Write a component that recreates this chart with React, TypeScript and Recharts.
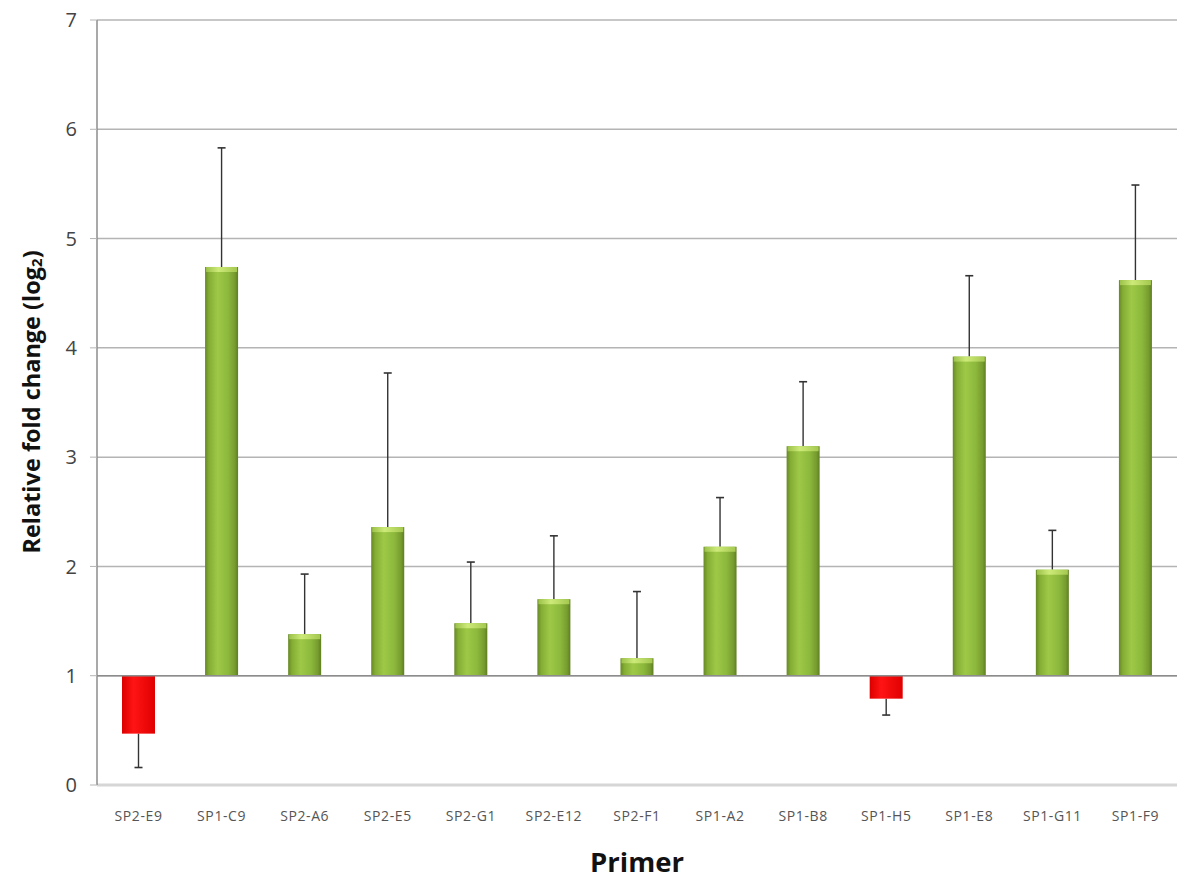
import React from 'react';
import { BarChart, Bar, XAxis, YAxis, CartesianGrid, ReferenceLine } from 'recharts';

const primers = ['SP2-E9', 'SP1-C9', 'SP2-A6', 'SP2-E5', 'SP2-G1', 'SP2-E12', 'SP2-F1', 'SP1-A2', 'SP1-B8', 'SP1-H5', 'SP1-E8', 'SP1-G11', 'SP1-F9'];
const foldChange = [0.47, 4.74, 1.38, 2.36, 1.48, 1.7, 1.16, 2.18, 3.1, 0.79, 3.92, 1.97, 4.62];
const errorEnd = [0.16, 5.83, 1.93, 3.77, 2.04, 2.28, 1.77, 2.63, 3.69, 0.64, 4.66, 2.33, 5.49];
const yTicks = [0, 1, 2, 3, 4, 5, 6, 7];
const BASELINE = 1;

// each mark spans baseline -> error end; the bar itself stops at the value
const data = primers.map((name, i) => ({
  name,
  value: foldChange[i],
  err: errorEnd[i],
  span: [BASELINE, errorEnd[i]],
}));

const FONT = "'Open Sans', 'Liberation Sans', sans-serif";

const FoldBar = (props: any) => {
  const { x, y, width, height, payload, index } = props;
  if (x == null || y == null || !payload) return null;
  // y is the pixel of the error end, y + height the pixel of the baseline (linear scale)
  const yBase = y + height;
  const yErr = y;
  const t = (payload.value - BASELINE) / (payload.err - BASELINE);
  const yVal = yBase + t * (yErr - yBase);
  const top = Math.min(yBase, yVal);
  const h = Math.abs(yVal - yBase);
  const down = payload.value < BASELINE;
  const cx = x + width / 2;
  const g = `fold-g-${index}`;
  const c = `fold-c-${index}`;
  return (
    <g>
      <defs>
        <linearGradient id={g} x1="0" y1="0" x2="1" y2="0">
          {down ? (
            <>
              <stop offset="0%" stopColor="#dc0000" />
              <stop offset="35%" stopColor="#ff1414" />
              <stop offset="100%" stopColor="#e00000" />
            </>
          ) : (
            <>
              <stop offset="0%" stopColor="#678826" />
              <stop offset="12%" stopColor="#84ad34" />
              <stop offset="38%" stopColor="#9ec947" />
              <stop offset="70%" stopColor="#8cb83c" />
              <stop offset="90%" stopColor="#779c2f" />
              <stop offset="100%" stopColor="#5f7e22" />
            </>
          )}
        </linearGradient>
        <linearGradient id={c} x1="0" y1="0" x2="1" y2="0">
          <stop offset="0%" stopColor="#9cc24a" />
          <stop offset="40%" stopColor="#cdea78" />
          <stop offset="100%" stopColor="#a4c850" />
        </linearGradient>
      </defs>
      <line x1={cx} x2={cx} y1={yVal} y2={yErr} stroke="#333" strokeWidth={1.4} />
      <line x1={cx - 4} x2={cx + 4} y1={yErr} y2={yErr} stroke="#333" strokeWidth={1.6} />
      <rect x={x} y={top} width={width} height={h} fill={`url(#${g})`} />
      {!down && <rect x={x + 1} y={top} width={width - 2} height={Math.min(5, h)} fill={`url(#${c})`} />}
    </g>
  );
};

const YLabel = () => (
  <text
    x={31}
    y={402}
    transform="rotate(-90, 31, 402)"
    textAnchor="middle"
    dominantBaseline="central"
    fontFamily={FONT}
    fontWeight={700}
    fontSize={23.5}
    fill="#111"
  >
    Relative fold change (log
    <tspan fontSize={15} dy={5}>2</tspan>
    <tspan dy={-5}>)</tspan>
  </text>
);

const XLabel = () => (
  <text x={637} y={872} textAnchor="middle" fontFamily={FONT} fontWeight={700} fontSize={27.5} fill="#111">
    Primer
  </text>
);

export default function App() {
  return (
    <div style={{ position: 'absolute', left: 0, top: 0, width: 1177, height: 879, background: '#fff' }}>
      <BarChart
        width={1177}
        height={879}
        data={data}
        margin={{ top: 20, right: 0, left: 0, bottom: 0 }}
        barSize={33}
      >
        <CartesianGrid vertical={false} stroke="#b4b4b4" strokeWidth={1.5} />
        <XAxis
          dataKey="name"
          axisLine={{ stroke: '#d6d6d6', strokeWidth: 3 }}
          tickLine={false}
          height={94}
          tickMargin={20}
          tick={{ fontFamily: FONT, fontSize: 14, fill: '#555', letterSpacing: 0.6 }}
          interval={0}
          label={<XLabel />}
        />
        <YAxis
          domain={[0, 7]}
          ticks={yTicks}
          width={97}
          axisLine={{ stroke: '#8c8c8c', strokeWidth: 1.5 }}
          tickLine={{ stroke: '#b4b4b4' }}
          tickSize={7}
          tickMargin={13}
          tick={{ fontFamily: FONT, fontSize: 20, fill: '#444' }}
          label={<YLabel />}
        />
        <ReferenceLine y={BASELINE} stroke="#8c8c8c" strokeWidth={1.5} />
        <Bar dataKey="span" shape={<FoldBar />} isAnimationActive={false} />
      </BarChart>
    </div>
  );
}
